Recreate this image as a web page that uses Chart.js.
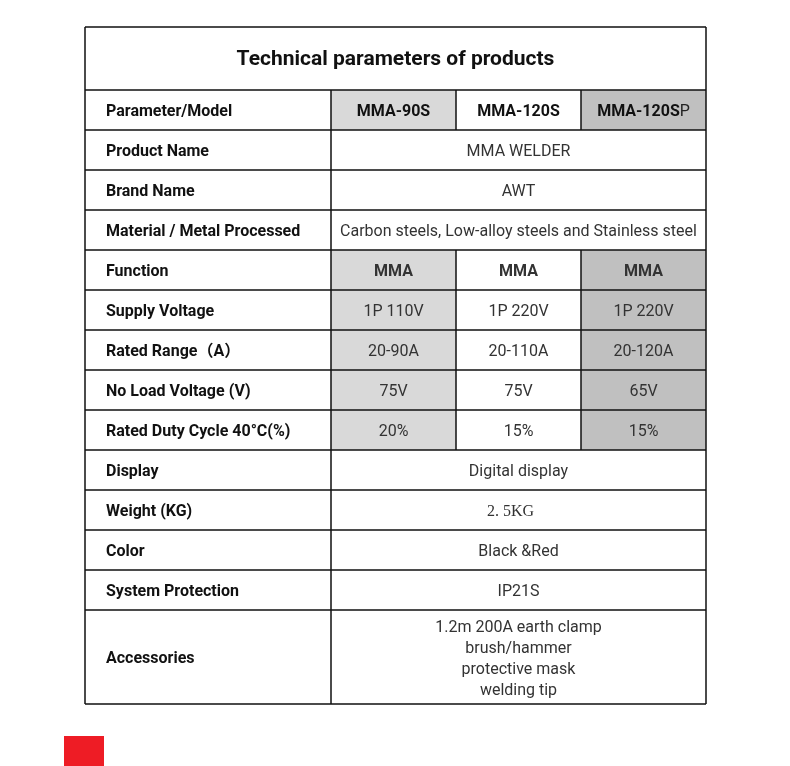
<!DOCTYPE html>
<html>
<head>
<meta charset="utf-8">
<script src="https://cdn.jsdelivr.net/npm/chart.js@4.4.1/dist/chart.umd.min.js"></script>
<style>
  body { margin: 0; background: #fff; }
  #wrap { position: relative; width: 790px; height: 766px; }
  #mark { position: absolute; left: 64px; top: 736px; width: 40px; height: 30px; background: #ee1c25; }
</style>
</head>
<body>
<div id="wrap">
  <canvas id="chart" width="790" height="766"></canvas>
  <div id="mark"></div>
</div>
<script>
// Données du tableau
const title = 'Technical parameters of products';
const headLabel = 'Parameter/Model';
const models = ['MMA-90S', 'MMA-120S', 'MMA-120SP'];
const params = [
    'Product Name', 'Brand Name', 'Material / Metal Processed', 'Function',
    'Supply Voltage', 'Rated Range\uFF08A\uFF09', 'No Load Voltage (V)',
    'Rated Duty Cycle 40°C(%)', 'Display', 'Weight (KG)', 'Color',
    'System Protection', 'Accessories'
];
const values = [
    'MMA WELDER',
    'AWT',
    'Carbon steels, Low-alloy steels and Stainless steel',
    ['MMA', 'MMA', 'MMA'],
    ['1P 110V', '1P 220V', '1P 220V'],
    ['20-90A', '20-110A', '20-120A'],
    ['75V', '75V', '65V'],
    ['20%', '15%', '15%'],
    'Digital display',
    '2. 5KG\u3000',
    'Black &Red',
    'IP21S',
    '1.2m 200A earth clamp\nbrush/hammer\nprotective mask\nwelding tip'
];

// Mise en page (unités des axes)
const colEdges = [0, 246, 371, 496, 621];
const titleH = 63, rowH = 40, lastH = 94;
const shades = ['#d9d9d9', null, '#c0c0c0'];

const rowEdges = [0, titleH];
for (let i = 0; i <= params.length; i++) {
    const h = i === params.length ? lastH : rowH;
    rowEdges.push(rowEdges[rowEdges.length - 1] + h);
}

const tablePlugin = {
    id: 'table',
    afterDraw(chart) {
        const ctx = chart.ctx;
        const sx = chart.scales.x, sy = chart.scales.y;
        const px = v => sx.getPixelForValue(v);
        const py = v => sy.getPixelForValue(v);
        const rows = [models].concat(values);

        // Fonds
        rows.forEach((r, i) => {
            if (!Array.isArray(r)) return;
            r.forEach((_, j) => {
                if (!shades[j]) return;
                ctx.fillStyle = shades[j];
                ctx.fillRect(px(colEdges[j + 1]), py(rowEdges[i + 1]),
                    px(colEdges[j + 2]) - px(colEdges[j + 1]),
                    py(rowEdges[i + 2]) - py(rowEdges[i + 1]));
            });
        });

        // Lignes
        ctx.strokeStyle = '#111';
        ctx.lineWidth = 1.5;
        ctx.beginPath();
        rowEdges.forEach(v => {
            ctx.moveTo(px(0), py(v));
            ctx.lineTo(px(colEdges[4]), py(v));
        });
        ctx.moveTo(px(0), py(0)); ctx.lineTo(px(0), py(rowEdges[rowEdges.length - 1]));
        ctx.moveTo(px(colEdges[4]), py(0)); ctx.lineTo(px(colEdges[4]), py(rowEdges[rowEdges.length - 1]));
        ctx.moveTo(px(colEdges[1]), py(rowEdges[1])); ctx.lineTo(px(colEdges[1]), py(rowEdges[rowEdges.length - 1]));
        rows.forEach((r, i) => {
            if (!Array.isArray(r)) return;
            [2, 3].forEach(c => {
                ctx.moveTo(px(colEdges[c]), py(rowEdges[i + 1]));
                ctx.lineTo(px(colEdges[c]), py(rowEdges[i + 2]));
            });
        });
        ctx.stroke();

        // Textes
        ctx.textBaseline = 'middle';
        ctx.textAlign = 'center';
        ctx.fillStyle = '#111';
        ctx.font = 'bold 21px Roboto';
        ctx.fillText(title, (px(0) + px(colEdges[4])) / 2, (py(0) + py(rowEdges[1])) / 2 + 1);

        const labels = [headLabel].concat(params);
        labels.forEach((l, i) => {
            const yc = (py(rowEdges[i + 1]) + py(rowEdges[i + 2])) / 2 + 1.5;
            ctx.textAlign = 'left';
            ctx.fillStyle = '#111';
            ctx.font = 'bold 16px Roboto, "Noto Sans CJK SC"';
            ctx.fillText(l, px(0) + 21, yc);

            const r = rows[i];
            ctx.textAlign = 'center';
            if (Array.isArray(r)) {
                r.forEach((t, j) => {
                    const xc = (px(colEdges[j + 1]) + px(colEdges[j + 2])) / 2;
                    if (i === 0) {
                        ctx.fillStyle = '#111';
                        ctx.font = 'bold 16px Roboto';
                        if (t.endsWith('P')) {
                            const a = t.slice(0, -1);
                            const wa = ctx.measureText(a).width;
                            ctx.font = '16px Roboto';
                            const wb = ctx.measureText('P').width;
                            const x0 = xc - (wa + wb) / 2;
                            ctx.textAlign = 'left';
                            ctx.font = 'bold 16px Roboto';
                            ctx.fillText(a, x0, yc);
                            ctx.font = '16px Roboto';
                            ctx.fillStyle = '#222';
                            ctx.fillText('P', x0 + wa, yc);
                            ctx.textAlign = 'center';
                        } else {
                            ctx.fillText(t, xc, yc);
                        }
                    } else {
                        ctx.fillStyle = '#333';
                        ctx.font = (params[i - 1] === 'Function' ? 'bold ' : '') + '16px Roboto';
                        ctx.fillText(t, xc, yc);
                    }
                });
            } else {
                const xc = (px(colEdges[1]) + px(colEdges[4])) / 2;
                ctx.fillStyle = '#333';
                ctx.font = r.startsWith('2.') ? '16px "Liberation Serif", "Noto Sans CJK SC"' : '16px Roboto';
                const lines = r.split('\n');
                lines.forEach((t, k) => {
                    ctx.fillText(t, xc, yc + (k - (lines.length - 1) / 2) * 21 + (lines.length > 1 ? 0.5 : 0));
                });
            }
        });
    }
};

new Chart(document.getElementById('chart'), {
    type: 'scatter',
    data: { datasets: [] },
    options: {
        responsive: false,
        animation: false,
        layout: { padding: { left: 85, right: 84, top: 27, bottom: 62 } },
        plugins: { legend: { display: false }, tooltip: { enabled: false } },
        scales: {
            x: { type: 'linear', display: false, min: 0, max: colEdges[4] },
            y: { type: 'linear', display: false, reverse: true, min: 0, max: rowEdges[rowEdges.length - 1] }
        }
    },
    plugins: [tablePlugin]
});
</script>
</body>
</html>
